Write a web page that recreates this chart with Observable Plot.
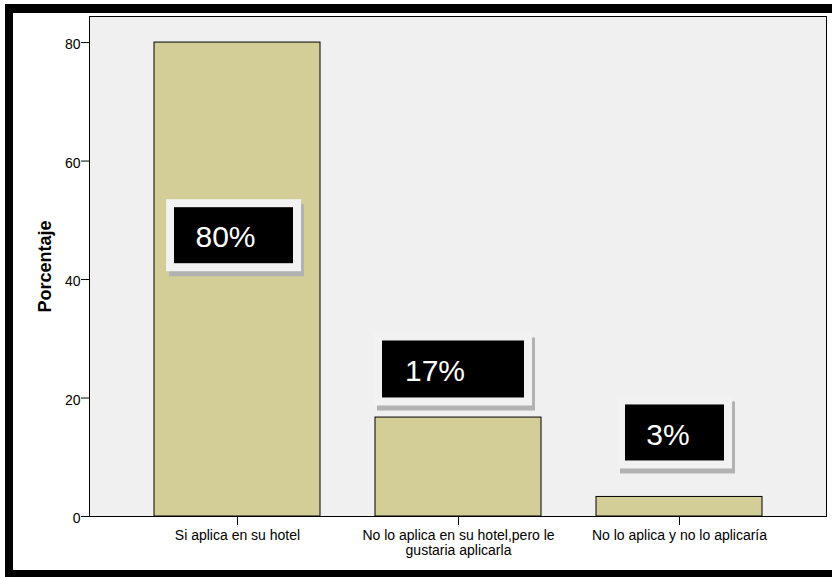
<!DOCTYPE html>
<html><head><meta charset="utf-8">
<script src="https://cdn.jsdelivr.net/npm/d3@7"></script>
<script src="https://cdn.jsdelivr.net/npm/@observablehq/plot@0.6"></script>
<style>
html,body{margin:0;padding:0;background:#fff;}
#wrap{position:relative;width:832px;height:577px;overflow:hidden;}
#wrap svg{display:block;}
#border{position:absolute;left:5px;top:4px;width:827px;height:573px;box-sizing:border-box;border-top:9px solid #000;border-left:8px solid #000;border-bottom:7px solid #000;pointer-events:none;}
</style></head><body><div id="wrap"><div id="border"></div></div>
<script>
const categories = ["Si aplica en su hotel", "No lo aplica en su hotel,pero le gustaria aplicarla", "No lo aplica y no lo aplicaría"];
const tickLabels = ["Si aplica en su hotel", "No lo aplica en su hotel,pero le\ngustaria aplicarla", "No lo aplica y no lo aplicaría"];
const percentages = [80, 16.7, 3.3];
const labelTexts = ["80%", "17%", "3%"];
const labelAnchors = [47.4, 24.9, 14.1];
const yTicks = [0, 20, 40, 60, 80];
const yTitle = "Porcentaje";

const bars = categories.map((c, i) => ({cat: c, value: percentages[i]}));
const labels = categories.map((c, i) => ({cat: c, text: labelTexts[i], y: labelAnchors[i]}));

// box geometry (pixels) for each annotation
const boxStyles = [
  {l: 20, r: 27, t: 28, b: 28, dx: -12},
  {l: 7, r: 17, t: 28, b: 29, dx: -23.5},
  {l: 29, r: 38, t: 28, b: 28, dx: -11.5}
];
const pad = 8;

const labelMarks = labels.flatMap((d, i) => {
  const s = boxStyles[i];
  const outer = {insetLeft: s.l - pad, insetRight: s.r - pad, insetTop: -(s.t + pad), insetBottom: -(s.b + pad)};
  return [
    Plot.barY([d], {x: "cat", y1: "y", y2: "y", fill: "#b2b2b2", ...outer, dx: 3, dy: 5}),
    Plot.barY([d], {x: "cat", y1: "y", y2: "y", fill: "#f2f2f2", ...outer}),
    Plot.barY([d], {x: "cat", y1: "y", y2: "y", fill: "black", insetLeft: s.l, insetRight: s.r, insetTop: -s.t, insetBottom: -s.b}),
    Plot.text([d], {x: "cat", y: "y", text: "text", fill: "white", fontSize: 30, dx: s.dx, dy: 2})
  ];
});

const chart = Plot.plot({
  width: 832,
  height: 577,
  marginLeft: 89,
  marginRight: 6,
  marginTop: 16,
  marginBottom: 61,
  style: {fontFamily: "'Liberation Sans', Arial, sans-serif", background: "white", color: "black"},
  x: {domain: categories, paddingInner: 0.25, paddingOuter: 0.29, label: null},
  y: {domain: [0, 84.4], label: null},
  marks: [
    Plot.frame({fill: "#f0f0f0"}),
    Plot.barY(bars, {x: "cat", y: "value", fill: "#d3ce97", stroke: "black", strokeWidth: 1}),
    ...labelMarks,
    Plot.frame({stroke: "black"}),
    Plot.axisY({ticks: yTicks, tickSize: 8, text: null}),
    Plot.axisY({ticks: yTicks, tickSize: 0, tickPadding: 9, fontSize: 14, dy: 2, label: null}),
    Plot.axisX({tickSize: 9, tickPadding: 4, fontSize: 14, lineHeight: 1.07, tickFormat: c => tickLabels[categories.indexOf(c)], label: null}),
    Plot.text([yTitle], {frameAnchor: "left", textAnchor: "middle", dx: -44, rotate: -90, fontWeight: "bold", fontSize: 18})
  ]
});
const wrap = document.getElementById("wrap");
wrap.insertBefore(chart, wrap.firstChild);
</script>
</body></html>
